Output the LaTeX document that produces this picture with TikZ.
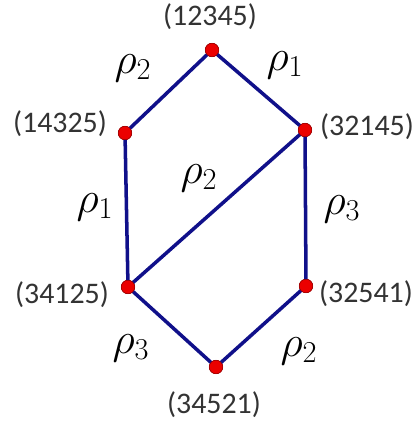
\documentclass[tikz,border=0pt]{standalone}
\usepackage{fontspec}
\newfontfamily\permfont{Carlito}
\definecolor{edgeblue}{RGB}{16,16,138}
\definecolor{dotred}{RGB}{235,0,0}
\tikzset{
  perm/.style={circle, fill=dotred, draw=red!60!black, line width=0.3pt, inner sep=0pt, minimum size=0.27cm},
  permlab/.style={font=\permfont\fontsize{17}{20}\selectfont, text=black!80},
  rholab/.style={font=\fontsize{25}{28}\selectfont},
  edge/.style={edgeblue, line width=2pt}
}
\begin{document}
\begin{tikzpicture}[x=0.02cm, y=-0.02cm]
\useasboundingbox (0,0) rectangle (416,421);
% vertices
\node[perm] (a) at (212,50) {};
\node[perm] (b) at (125,133) {};
\node[perm] (c) at (305,130) {};
\node[perm] (d) at (128,287) {};
\node[perm] (e) at (306,286) {};
\node[perm] (f) at (216,367) {};
% edges
\draw[edge] (a.center)--(b.center);
\draw[edge] (a.center)--(c.center);
\draw[edge] (b.center)--(d.center);
\draw[edge] (c.center)--(d.center);
\draw[edge] (c.center)--(e.center);
\draw[edge] (d.center)--(f.center);
\draw[edge] (e.center)--(f.center);
\foreach \v in {a,b,c,d,e,f} \node[perm] at (\v) {};
% permutations
\node[permlab] (la) at (210,17) {(12345)};
\node[permlab] (lb) at (60,124) {(14325)};
\node[permlab] (lc) at (367,127) {(32145)};
\node[permlab] (ld) at (62,295) {(34125)};
\node[permlab] (le) at (366,294) {(32541)};
\node[permlab] (lf) at (214,405) {(34521)};
% generators
\node[rholab] (r1) at (133,68) {$\rho_2$};
\node[rholab] (r2) at (285,65) {$\rho_1$};
\node[rholab] (r3) at (95,207) {$\rho_1$};
\node[rholab] (r4) at (199,178) {$\rho_2$};
\node[rholab] (r5) at (342,209) {$\rho_3$};
\node[rholab] (r6) at (131,348) {$\rho_3$};
\node[rholab] (r7) at (299,351) {$\rho_2$};
\end{tikzpicture}
\end{document}
